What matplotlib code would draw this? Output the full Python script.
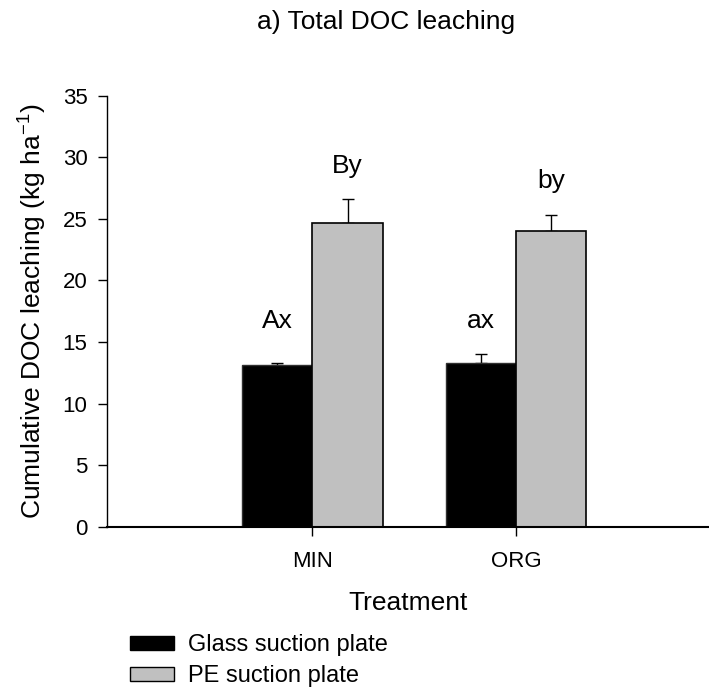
import numpy as np
import matplotlib
matplotlib.use('Agg')
import matplotlib.pyplot as plt
from matplotlib.patches import Patch

plt.rcParams['font.family'] = ['Liberation Sans', 'DejaVu Sans']
plt.rcParams['mathtext.default'] = 'regular'

# 累计 DOC 淋溶量 (kg/ha)
treatments = ['MIN', 'ORG']
glass_mean = [13.1, 13.3]
glass_err = [0.2, 0.7]
pe_mean = [24.7, 24.05]
pe_err = [1.9, 1.3]
glass_letters = ['Ax', 'ax']
pe_letters = ['By', 'by']

W, H = 709, 690
fig = plt.figure(figsize=(W / 100, H / 100), dpi=100)
ax = fig.add_axes([107.5 / W, 1 - 526.7 / H, 1 - 107.5 / W, (526.7 - 95.7) / H])

x = np.arange(len(treatments))
w = 0.345

ax.bar(x - w / 2, glass_mean, w, color='black', edgecolor='#303030', linewidth=1.0, zorder=2)
ax.bar(x + w / 2, pe_mean, w, color='#c0c0c0', edgecolor='black', linewidth=1.2, zorder=2)

# 只画向上的误差线
ax.errorbar(x - w / 2, glass_mean, yerr=[np.zeros(len(x)), glass_err], fmt='none',
            ecolor='black', elinewidth=1.0, capsize=4.5, capthick=1.0, zorder=1)
ax.errorbar(x + w / 2, pe_mean, yerr=[np.zeros(len(x)), pe_err], fmt='none',
            ecolor='black', elinewidth=1.0, capsize=4.5, capthick=1.0, zorder=1)

# 显著性字母
gap = 2.15
glass_top = max(m + e for m, e in zip(glass_mean, glass_err))
for i in range(len(x)):
    ax.text(x[i] - w / 2, glass_top + gap, glass_letters[i], ha='center', va='baseline', fontsize=19)
    ax.text(x[i] + w / 2, pe_mean[i] + pe_err[i] + gap, pe_letters[i], ha='center', va='baseline', fontsize=19)

ax.set_xlim(-1.005, 1.946)
ax.set_ylim(0, 35)
ax.set_yticks(np.arange(0, 36, 5))
ax.set_xticks(x)
ax.set_xticklabels(treatments)
ax.tick_params(axis='both', labelsize=16, length=6.5, width=1.0, direction='out')
ax.tick_params(axis='x', pad=11)
ax.tick_params(axis='y', pad=8)

for s in ['top', 'right']:
    ax.spines[s].set_visible(False)
ax.spines['left'].set_linewidth(1.0)
ax.spines['bottom'].set_linewidth(1.5)

ax.set_xlabel('Treatment', fontsize=19, labelpad=14)
ax.set_ylabel('Cumulative DOC leaching (kg ha$^{-1}$)', fontsize=19, labelpad=10)

fig.text(386 / W, 1 - 29 / H, 'a) Total DOC leaching', ha='center', va='baseline', fontsize=19)

handles = [Patch(facecolor='black', edgecolor='black'),
           Patch(facecolor='#c0c0c0', edgecolor='black')]
fig.legend(handles, ['Glass suction plate', 'PE suction plate'], loc='upper left',
           bbox_to_anchor=(130 / W, 1 - 634 / H), frameon=False, fontsize=17,
           borderpad=0, borderaxespad=0, handlelength=1.85, handleheight=0.55,
           handletextpad=0.6, labelspacing=0.4)

fig.savefig('out.png', dpi=100)
